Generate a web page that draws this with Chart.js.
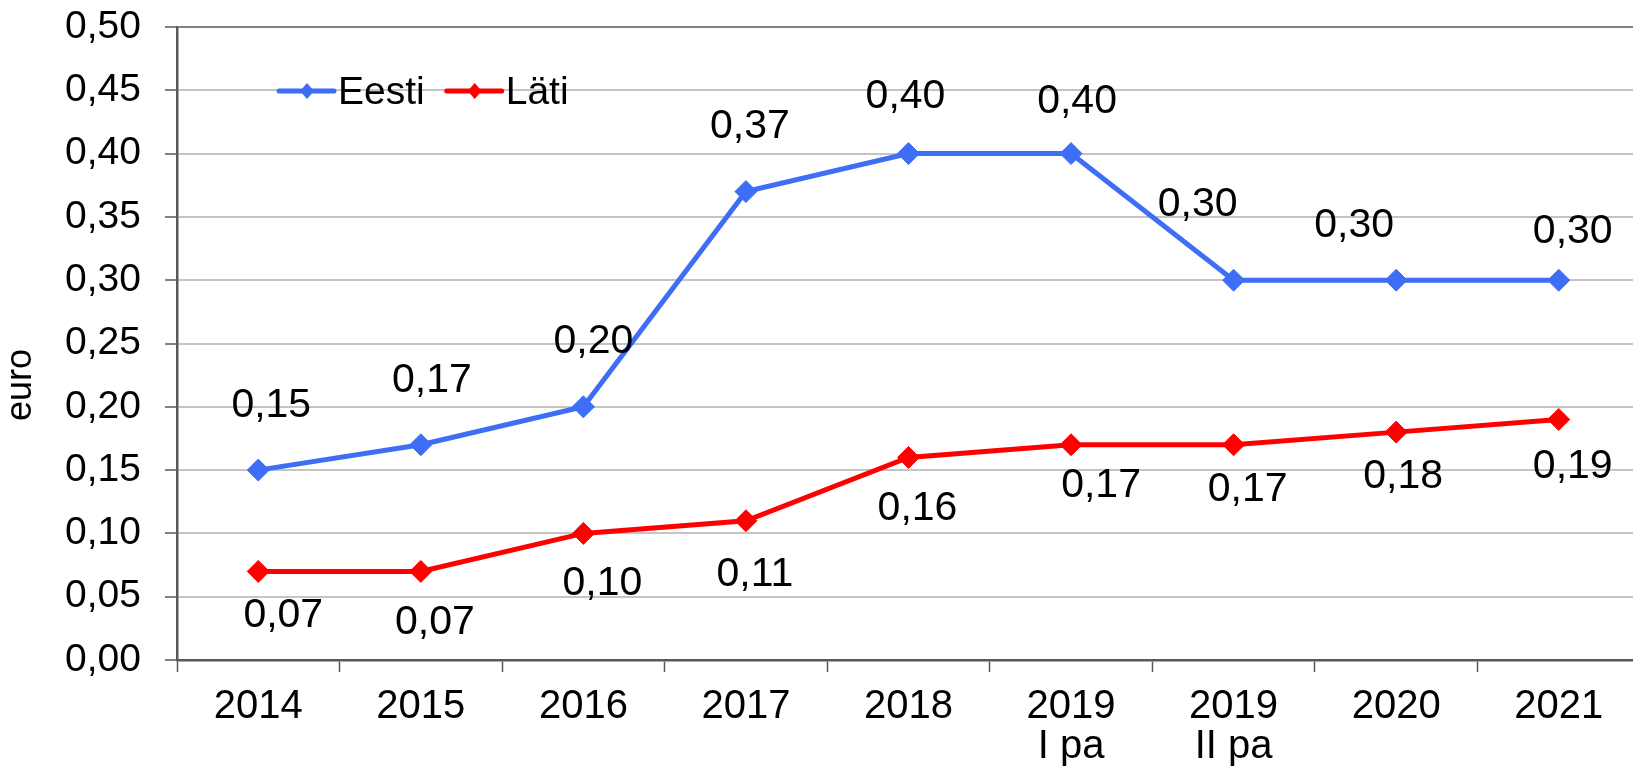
<!DOCTYPE html>
<html>
<head>
<meta charset="utf-8">
<script src="https://cdn.jsdelivr.net/npm/chart.js@4.4.1/dist/chart.umd.min.js"></script>
<style>
  html, body { margin: 0; padding: 0; background: #fff; overflow: hidden; }
  #wrap { width: 1652px; height: 768px; }
</style>
</head>
<body>
<div id="wrap"><canvas id="priceChart" width="1652" height="768"></canvas></div>
<script>
// chart data
const periods = [['2014'], ['2015'], ['2016'], ['2017'], ['2018'], ['2019', 'I pa'], ['2019', 'II pa'], ['2020'], ['2021']];
const eestiValues = [0.15, 0.17, 0.20, 0.37, 0.40, 0.40, 0.30, 0.30, 0.30];
const latiValues = [0.07, 0.07, 0.10, 0.11, 0.16, 0.17, 0.17, 0.18, 0.19];
const yMin = 0;
const yMax = 0.5;
const yStep = 0.05;

// hand placed data labels (offset from point, px)
const eestiLabelShift = [[13, -64], [11, -64], [10, -65], [4, -65], [-3, -57], [6, -52], [-36, -76], [-42, -55], [14, -49]];
const latiLabelShift = [[25, 44], [14, 51], [19, 50], [9, 54], [9, 51], [30, 41], [14, 45], [7, 45], [14, 47]];

const BLUE = '#3d6ef5';
const RED = '#ff0000';
const FONT = '"Liberation Sans", Arial, sans-serif';

function fmt(v) {
    return v.toFixed(2).replace('.', ',');
}

// draws value labels, legend and axis title
const extrasPlugin = {
    id: 'extras',
    afterDatasetsDraw(chart) {
        const ctx = chart.ctx;
        const area = chart.chartArea;
        ctx.save();
        ctx.fillStyle = '#000';
        ctx.font = '41px ' + FONT;
        ctx.textAlign = 'center';
        ctx.textBaseline = 'middle';
        const shifts = [eestiLabelShift, latiLabelShift];
        chart.data.datasets.forEach((ds, i) => {
            const meta = chart.getDatasetMeta(i);
            meta.data.forEach((pt, j) => {
                const s = shifts[i][j];
                ctx.fillText(fmt(ds.data[j]), pt.x + s[0], pt.y + s[1]);
            });
        });

        // legend inside plot
        ctx.font = '39px ' + FONT;
        ctx.textAlign = 'left';
        let x = area.left + 102;
        const y = area.top + 64;
        chart.data.datasets.forEach(ds => {
            ctx.strokeStyle = ds.borderColor;
            ctx.lineWidth = 5;
            ctx.lineCap = 'round';
            ctx.beginPath();
            ctx.moveTo(x, y);
            ctx.lineTo(x + 55, y);
            ctx.stroke();
            ctx.fillStyle = ds.borderColor;
            ctx.beginPath();
            ctx.moveTo(x + 28, y - 8);
            ctx.lineTo(x + 35, y);
            ctx.lineTo(x + 28, y + 8);
            ctx.lineTo(x + 21, y);
            ctx.closePath();
            ctx.fill();
            ctx.fillStyle = '#000';
            ctx.fillText(ds.label, x + 59, y + 2);
            x += 59 + ctx.measureText(ds.label).width + 22;
        });

        // y axis title
        ctx.font = '36px ' + FONT;
        ctx.textAlign = 'center';
        ctx.translate(21, 385);
        ctx.rotate(-Math.PI / 2);
        ctx.fillText('euro', 0, 0);
        ctx.restore();
    }
};

const ctx = document.getElementById('priceChart').getContext('2d');
new Chart(ctx, {
    type: 'line',
    data: {
        labels: periods,
        datasets: [{
            label: 'Eesti',
            data: eestiValues,
            borderColor: BLUE,
            backgroundColor: BLUE,
            borderWidth: 5,
            pointStyle: 'rectRot',
            pointRadius: 11,
            pointBorderWidth: 1,
            tension: 0
        }, {
            label: 'Läti',
            data: latiValues,
            borderColor: RED,
            backgroundColor: RED,
            borderWidth: 5,
            pointStyle: 'rectRot',
            pointRadius: 11,
            pointBorderWidth: 1,
            tension: 0
        }]
    },
    options: {
        responsive: false,
        animation: false,
        layout: { padding: { top: 27, right: 1, left: 0, bottom: 0 } },
        plugins: {
            legend: { display: false },
            tooltip: { enabled: false }
        },
        scales: {
            x: {
                offset: true,
                grid: {
                    offset: true,
                    drawOnChartArea: false,
                    drawTicks: true,
                    tickLength: 12,
                    tickColor: '#595959',
                    tickWidth: 1.5
                },
                border: { color: '#595959', width: 2.5 },
                ticks: {
                    color: '#000',
                    padding: 15,
                    maxRotation: 0,
                    autoSkip: false,
                    font: { family: FONT, size: 40, lineHeight: 1.0 }
                },
                afterFit(scale) {
                    scale.height = 108;
                    scale.paddingLeft = 0;
                    scale.paddingRight = 0;
                }
            },
            y: {
                min: yMin,
                max: yMax,
                grid: {
                    color: c => (c.tick && c.tick.value === yMax ? '#808080' : '#c4c4c4'),
                    lineWidth: 2,
                    drawTicks: true,
                    tickLength: 12,
                    tickColor: '#595959',
                    tickWidth: 1.5
                },
                border: { color: '#595959', width: 2.5 },
                ticks: {
                    stepSize: yStep,
                    color: '#000',
                    padding: 24,
                    font: { family: FONT, size: 39 },
                    callback: v => fmt(v)
                },
                afterFit(scale) {
                    scale.width = 177;
                    scale.paddingTop = 0;
                    scale.paddingBottom = 0;
                }
            }
        }
    },
    plugins: [extrasPlugin]
});
</script>
</body>
</html>
